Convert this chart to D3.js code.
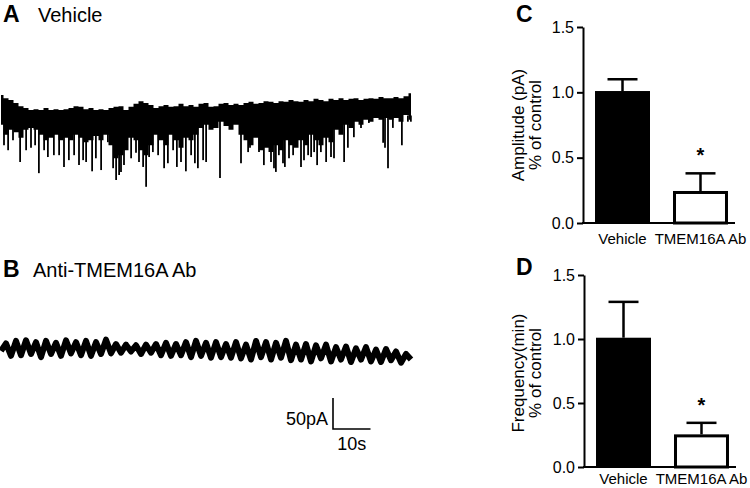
<!DOCTYPE html>
<html><head><meta charset="utf-8">
<script src="https://cdn.jsdelivr.net/npm/d3@7"></script>
<style>body{margin:0;background:#fff}svg{display:block}text{font-family:"Liberation Sans",Arial,sans-serif}</style>
</head><body>
<svg id="c" width="750" height="488"></svg>
<script>
// ---------- Trace A (Vehicle): body envelope sampled every 4/3 s, pA ----------
const dtA = 4 / 3;
const traceATop = [8,3,0,-5,-10,-13,-16,-15,-16,-13,-16,-15,-16,-15,-13,-10,-11,-15,-13,-16,-15,-16,-13,-11,-10,-16,-11,-6,-2,-5,-8,-13,-10,-8,-11,-10,-6,-10,-8,-11,-6,-5,-11,-10,-6,-5,-8,-6,-8,-5,-3,-6,-5,-2,-3,-5,-2,-3,0,-2,-3,0,-2,2,0,-2,2,0,3,0,2,3,0,2,3,2,5,3,3,5,3,6,11];
const traceABottom = [-40,-56,-48,-52,-61,-48,-45,-48,-56,-65,-61,-56,-65,-61,-65,-56,-61,-68,-65,-58,-65,-56,-73,-94,-89,-81,-61,-65,-81,-89,-73,-56,-65,-73,-56,-65,-77,-61,-65,-56,-45,-40,-48,-45,-35,-42,-48,-40,-56,-65,-73,-61,-81,-77,-84,-73,-81,-65,-73,-77,-65,-73,-56,-65,-73,-61,-68,-48,-56,-40,-45,-35,-40,-32,-35,-29,-32,-29,-32,-29,-35,-24,-32];
// spontaneous events: time (s) and peak (pA)
const spikeTimes = [0.8,1.9,3.2,5.1,6.7,8.0,9.1,10.1,11.5,12.5,14.1,15.5,16.8,18.1,19.5,20.8,21.9,22.7,24.3,25.3,26.7,
  28.5,29.9,30.7,31.5,32.0,32.8,34.7,36.0,36.8,37.9,38.7,39.5,40.5,41.9,43.5,44.5,45.9,46.9,48.0,49.3,50.7,51.7,52.5,53.9,54.7,
  58.4,64.0,65.9,66.4,68.8,70.1,72.0,72.8,73.3,74.1,75.2,75.7,76.8,77.9,80.0,80.8,81.9,82.7,83.5,
  84.3,85.3,86.7,88.0,88.8,91.5,92.5,94.1,96.0,98.1,101.9,102.4,103.2,104.5,106.9,108.5,109.3];
const spikePeaks = [-73,-81,-65,-100,-81,-77,-73,-118,-81,-92,-89,-89,-108,-97,-89,-105,-97,-100,-115,-94,-113,
  -68,-110,-129,-121,-116,-105,-94,-85,-100,-108,-140,-92,-84,-89,-110,-102,-81,-108,-100,-115,-89,-102,-110,-97,-100,
  -126,-102,-84,-77,-84,-105,-100,-110,-116,-89,-102,-108,-94,-89,-108,-97,-89,-92,-84,
  -105,-84,-100,-92,-94,-100,-77,-60,-45,-37,-69,-77,-110,-45,-73,-35,-35];

// ---------- Trace B (Anti-TMEM16A Ab): centre line every 4/3 s, pA ----------
const dtB = 4 / 3;
const traceB = [-3,9,-11,13,-10,14,-8,11,-13,13,-8,10,-11,14,-7,11,-10,13,-11,11,
  -8,15,-7,8,-6,7,-4,6,-8,7,-6,8,-10,10,-11,8,-10,11,-13,13,-11,10,-14,11,-13,8,-14,11,-15,7,
  -17,13,-13,11,-17,10,-14,13,-18,7,-17,8,-20,6,-15,7,-20,3,-17,4,-21,1,-17,3,-20,-1,-21,0,-18,-4,-22,-8,-17];

// ---------- Bar charts ----------
const groups = ["Vehicle", "TMEM16A Ab"];
const ampMean = [1.01, 0.245];
const ampSem = [0.09, 0.135];
const freqMean = [1.01, 0.255];
const freqSem = [0.28, 0.09];
const sigFlags = [false, true];
const yTicks = [0, 0.5, 1.0, 1.5];

const svg = d3.select("#c");

function panelLabel(x, y, letter, title, tx) {
  svg.append("text").attr("x", x).attr("y", y).attr("font-size", 23).attr("font-weight", "bold").text(letter);
  if (title) svg.append("text").attr("x", tx).attr("y", y).attr("font-size", 20).text(title);
}
panelLabel(3, 22, "A", "Vehicle", 38);
panelLabel(3, 277, "B", "Anti-TMEM16A Ab", 33);
panelLabel(516, 22, "C");
panelLabel(516, 275, "D");

// --- trace A
const xT = d3.scaleLinear().domain([0, 110]).range([1, 413.5]);
const yA = d3.scaleLinear().domain([0, -50]).range([100, 131]);
const bodyA = traceATop.map((t, i) => ({ t: i * dtA, top: t, bot: traceABottom[i] }));
svg.append("path").datum(bodyA)
  .attr("d", d3.area().x(d => xT(d.t)).y0(d => yA(d.bot)).y1(d => yA(d.top)).curve(d3.curveStep))
  .attr("fill", "#000");
svg.append("g").selectAll("line").data(spikeTimes.map((t, i) => ({ t, p: spikePeaks[i] })))
  .join("line")
  .attr("x1", d => xT(d.t)).attr("x2", d => xT(d.t))
  .attr("y1", yA(-25)).attr("y2", d => yA(d.p))
  .attr("stroke", "#000").attr("stroke-width", 1.8);

// --- trace B
const yB = d3.scaleLinear().domain([0, -50]).range([349, 380]);
svg.append("path").datum(traceB.map((v, i) => ({ t: i * dtB, v })))
  .attr("d", d3.line().x(d => xT(d.t)).y(d => yB(d.v)))
  .attr("fill", "none").attr("stroke", "#000").attr("stroke-width", 6).attr("stroke-linejoin", "round");

// scale bar (50 pA, 10 s)
const sbX = 333, sbY = 429;
const sbW = xT(10) - xT(0), sbH = yB(-50) - yB(0);
svg.append("path").attr("d", `M${sbX},${sbY - sbH}V${sbY}H${sbX + sbW}`)
  .attr("fill", "none").attr("stroke", "#000").attr("stroke-width", 1.6);
svg.append("text").attr("x", sbX - 5).attr("y", 425).attr("text-anchor", "end").attr("font-size", 18).text("50pA");
svg.append("text").attr("x", sbX + sbW / 2).attr("y", 450).attr("text-anchor", "middle").attr("font-size", 18).text("10s");

// --- bar chart helper
function barChart(opts) {
  const { axisX, top, bottom, means, sems, title1, title2, titleY, labelY } = opts;
  const y = d3.scaleLinear().domain([0, 1.5]).range([bottom, top]);
  const x = d3.scaleBand().domain(groups).range([axisX, axisX + 157]).paddingInner(0.295).paddingOuter(0.154);
  const g = svg.append("g");
  g.selectAll("rect").data(groups).join("rect")
    .attr("x", (d, i) => x(d) + (i ? 1.5 : 0))
    .attr("width", (d, i) => x.bandwidth() - (i ? 3 : 0))
    .attr("y", (d, i) => y(means[i]) + (i ? 1.5 : 0))
    .attr("height", (d, i) => bottom - y(means[i]) - (i ? 1.5 : 0))
    .attr("fill", (d, i) => i ? "#fff" : "#000")
    .attr("stroke", "#000").attr("stroke-width", (d, i) => i ? 3 : 0);
  groups.forEach((d, i) => {
    const cx = x(d) + x.bandwidth() / 2;
    g.append("line").attr("x1", cx).attr("x2", cx).attr("y1", y(means[i])).attr("y2", y(means[i] + sems[i]))
      .attr("stroke", "#000").attr("stroke-width", 2.5);
    g.append("line").attr("x1", cx - 15).attr("x2", cx + 15).attr("y1", y(means[i] + sems[i])).attr("y2", y(means[i] + sems[i]))
      .attr("stroke", "#000").attr("stroke-width", 2.5);
    if (sigFlags[i]) {
      g.append("text").attr("x", cx).attr("y", y(means[i] + sems[i]) - 11).attr("text-anchor", "middle")
        .attr("font-size", 20).attr("font-weight", "bold").text("*");
    }
    g.append("text").attr("x", cx).attr("y", labelY).attr("text-anchor", "middle").attr("font-size", 15).text(d);
  });
  const ax = g.append("g").attr("transform", `translate(${axisX},0)`)
    .call(d3.axisLeft(y).tickValues(yTicks).tickFormat(d3.format(".1f")).tickSize(6).tickSizeOuter(0).tickPadding(3));
  ax.attr("font-size", 16).attr("font-family", "Liberation Sans, Arial, sans-serif");
  ax.select(".domain").attr("stroke-width", 2);
  ax.selectAll(".tick line").attr("stroke-width", 2);
  ax.selectAll(".tick text").attr("fill", "#000");
  g.append("line").attr("x1", axisX - 1).attr("x2", axisX + 152).attr("y1", bottom).attr("y2", bottom)
    .attr("stroke", "#000").attr("stroke-width", 2);
  g.append("text").attr("transform", `translate(524,${titleY}) rotate(-90)`).attr("text-anchor", "middle")
    .attr("font-size", 17).text(title1);
  g.append("text").attr("transform", `translate(541,${titleY}) rotate(-90)`).attr("text-anchor", "middle")
    .attr("font-size", 17).text(title2);
}
barChart({ axisX: 583, top: 27, bottom: 223, means: ampMean, sems: ampSem,
  title1: "Amplitude (pA)", title2: "% of control", titleY: 125, labelY: 244 });
barChart({ axisX: 584, top: 275, bottom: 467, means: freqMean, sems: freqSem,
  title1: "Frequency(min)", title2: "% of control", titleY: 373, labelY: 484 });
</script>
</body></html>
